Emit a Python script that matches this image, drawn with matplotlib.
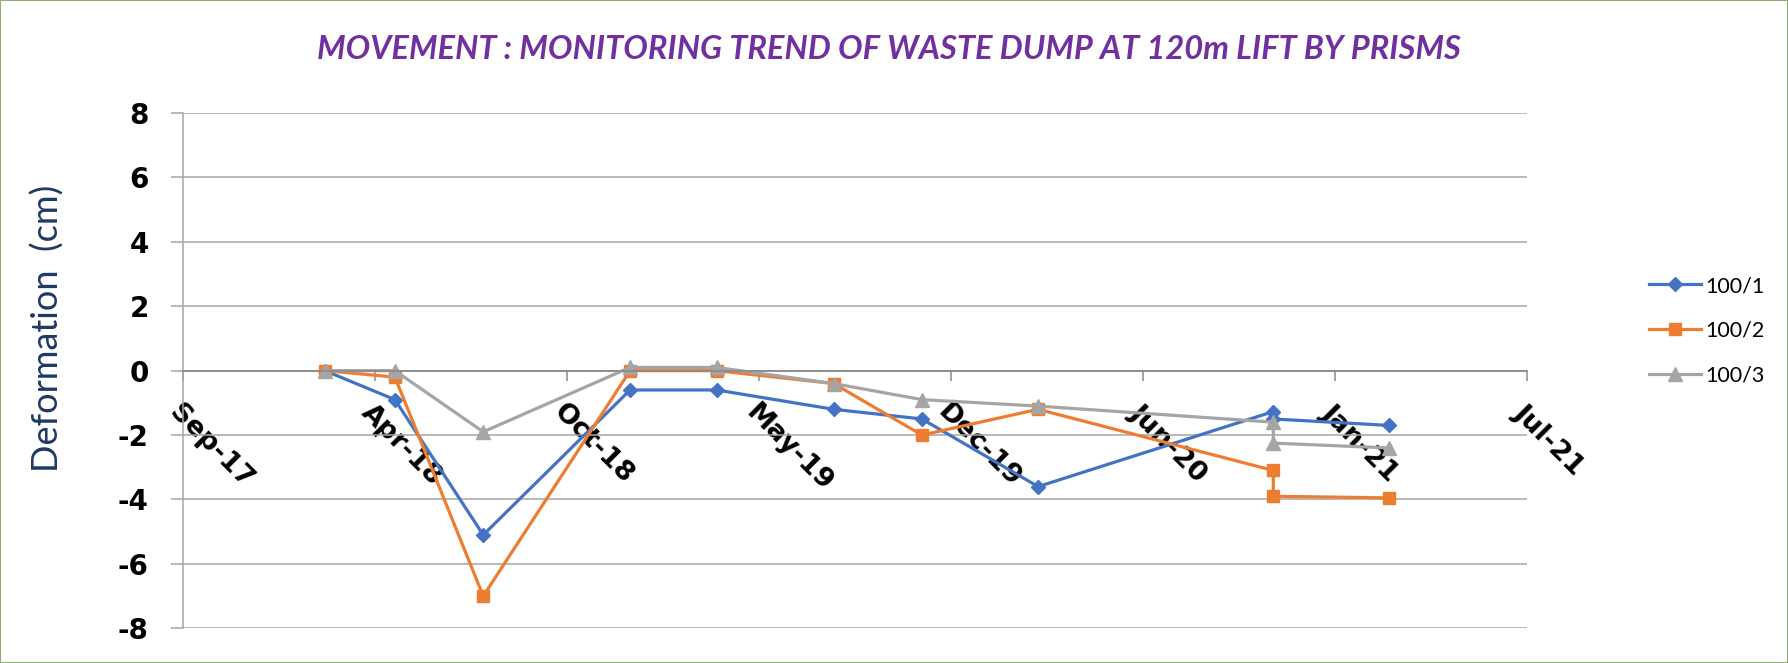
import pandas as pd
import matplotlib
matplotlib.use("Agg")
import matplotlib.pyplot as plt
import matplotlib.dates as mdates
from matplotlib.patches import Rectangle

plt.rcParams['axes.unicode_minus'] = False

# survey dates (the Nov-20 survey has two readings)
dates = ['2018-02-17', '2018-05-01', '2018-08-01', '2019-01-01', '2019-04-01',
         '2019-08-01', '2019-11-01', '2020-03-01', '2020-11-01', '2020-11-01',
         '2021-03-01']

# deformation (cm) of each prism
p100_1 = [0, -0.9, -5.1, -0.6, -0.6, -1.2, -1.5, -3.6, -1.27, -1.5, -1.7]
p100_2 = [0, -0.2, -7.0, 0.0, 0.0, -0.4, -2.0, -1.2, -3.1, -3.9, -3.95]
p100_3 = [0, 0.0, -1.9, 0.1, 0.1, -0.4, -0.9, -1.1, -1.6, -2.25, -2.4]

series_names = ['100/1', '100/2', '100/3']
yticks = [-8, -6, -4, -2, 0, 2, 4, 6, 8]

# axis runs Sep-17 .. Jul-21 with a tick every 200 days
x_start = pd.Timestamp('2017-09-22')
x_ticks = pd.date_range(x_start, periods=8, freq='200D')

x = pd.to_datetime(dates)

fig = plt.figure(figsize=(17.88, 6.63), dpi=100)
ax = fig.add_axes([0.1022, 0.0523, 0.7517, 0.7773])

ax.plot(x, p100_1, color='#4472C4', lw=2.3, marker='D', ms=7, label=series_names[0])
ax.plot(x, p100_2, color='#ED7D31', lw=2.3, marker='s', ms=9, label=series_names[1])
ax.plot(x, p100_3, color='#A5A5A5', lw=2.3, marker='^', ms=9.5, label=series_names[2])

ax.set_xlim(x_ticks[0], x_ticks[-1])
ax.set_ylim(-8, 8)
ax.set_yticks(yticks)
ax.set_xticks(x_ticks)
ax.xaxis.set_major_formatter(mdates.DateFormatter('%b-%y'))

ax.grid(axis='y', color='#a6a6a6', lw=1.1)
ax.set_axisbelow(True)

for s in ['top', 'right']:
    ax.spines[s].set_visible(False)
ax.spines['left'].set_color('#a6a6a6')
ax.spines['left'].set_linewidth(1.1)
ax.spines['bottom'].set_position(('data', 0))
ax.spines['bottom'].set_color('#8c8c8c')
ax.spines['bottom'].set_linewidth(1.3)

ax.tick_params(axis='y', length=8.5, width=1.1, color='#a6a6a6', pad=16,
               labelsize=20)
ax.tick_params(axis='x', length=7.5, width=1.1, color='#8c8c8c', pad=13,
               labelsize=19.5)
for lab in ax.get_yticklabels() + ax.get_xticklabels():
    lab.set_fontweight('bold')
for lab in ax.get_xticklabels():
    lab.set_rotation(-45)
    lab.set_ha('left')
    lab.set_va('top')
    lab.set_rotation_mode('anchor')

fig.text(0.497, 0.925, 'MOVEMENT : MONITORING TREND OF WASTE DUMP AT 120m LIFT BY PRISMS',
         ha='center', va='center', fontsize=23.5, fontfamily='Lato',
         fontweight='bold', fontstyle='italic', color='#7030A0')
fig.text(0.0268, 0.505, 'Deformation  (cm)', rotation=90, ha='center', va='center',
         fontsize=26, fontfamily='Lato', color='#203864')

ax.legend(loc='upper left', bbox_to_anchor=(0.9222, 0.5837),
          bbox_transform=fig.transFigure, frameon=False, borderpad=0,
          borderaxespad=0, handlelength=2.4, handletextpad=0.2,
          labelspacing=1.15, prop={'family': 'Lato', 'size': 15.5})

# thin chart border
fig.patches.append(Rectangle((0, 0), 1, 1, transform=fig.transFigure, fill=False,
                             edgecolor='#8fad7a', lw=1.5))

fig.savefig('out.png', dpi=100)
